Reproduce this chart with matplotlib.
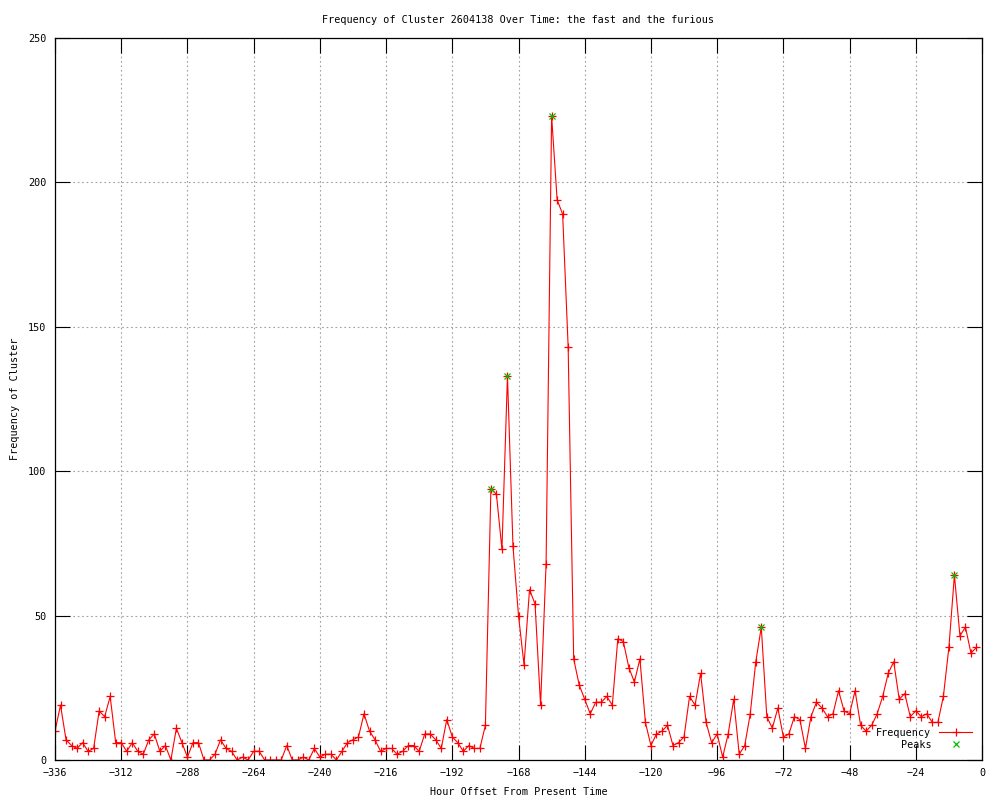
import numpy as np
import matplotlib
matplotlib.use('Agg')
import matplotlib.pyplot as plt

plt.rcParams['font.family'] = 'DejaVu Sans Mono'
plt.rcParams['font.size'] = 7.3

# hour offsets, every 2 hours from -336 to -2
hours = np.arange(-336, 0, 2)
freq = [10, 19, 7, 5, 4, 6, 3, 4, 17, 15, 22, 6, 6, 3, 6, 3, 2, 7, 9, 3,
        5, 0, 11, 6, 1, 6, 6, 0, 0, 2, 7, 4, 3, 0, 1, 0, 3, 3, 0, 0,
        0, 0, 5, 0, 0, 1, 0, 4, 1, 2, 2, 0, 3, 6, 7, 8, 16, 10, 7, 3,
        4, 4, 2, 3, 5, 5, 3, 9, 9, 7, 4, 14, 8, 6, 3, 5, 4, 4, 12, 94,
        92, 73, 133, 74, 50, 33, 59, 54, 19, 68, 223, 194, 189, 143, 35, 26, 21, 16, 20, 20,
        22, 19, 42, 41, 32, 27, 35, 13, 5, 9, 10, 12, 5, 6, 8, 22, 19, 30, 13, 6,
        9, 1, 9, 21, 2, 5, 16, 34, 46, 15, 11, 18, 8, 9, 15, 14, 4, 15, 20, 18,
        15, 16, 24, 17, 16, 24, 12, 10, 12, 16, 22, 30, 34, 21, 23, 15, 17, 15, 16, 13,
        13, 22, 39, 64, 43, 46, 37, 39]

# detected peaks
peak_hours = [-178, -172, -156, -80, -10]
peak_freq = [94, 133, 223, 46, 64]

x_ticks = np.arange(-336, 1, 24)
y_ticks = np.arange(0, 251, 50)

fig = plt.figure(figsize=(10, 8), dpi=100)
ax = fig.add_axes([0.055, 0.05, 0.927, 0.9025])

ax.plot(hours, freq, color='#ff0000', lw=0.8, marker='+', ms=6, mew=0.9,
        label='Frequency')
ax.plot(peak_hours, peak_freq, ls='none', color='#00c000', marker='x', ms=5,
        mew=0.9, label='Peaks')

ax.set_xlim(-336, 0)
ax.set_ylim(0, 250)
ax.set_xticks(x_ticks)
ax.set_yticks(y_ticks)
ax.tick_params(direction='in', length=11, width=0.8, top=True, right=True,
               labeltop=False, labelright=False, pad=6)
ax.grid(True, color='#a0a0a0', lw=0.8, linestyle=(0, (1.5, 2.5)))
for s in ax.spines.values():
    s.set_linewidth(0.9)

ax.set_title('Frequency of Cluster 2604138 Over Time: the fast and the furious',
             fontsize=7.3, pad=11)
ax.set_xlabel('Hour Offset From Present Time', labelpad=6)
ax.set_ylabel('Frequency of Cluster', labelpad=6)

ax.legend(loc='lower right', frameon=False, markerfirst=False, handlelength=3.2,
          handletextpad=0.8, labelspacing=0.2, borderaxespad=0.6,
          bbox_to_anchor=(1.0, 0.0))

fig.savefig('out.png', dpi=100)
